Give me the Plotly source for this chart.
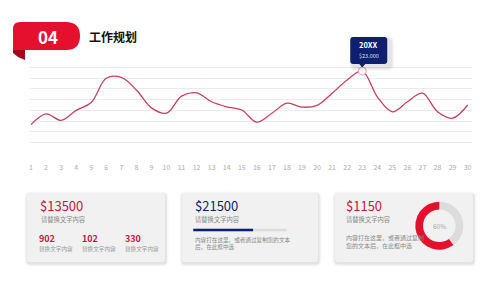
import plotly.graph_objects as go

W, H = 500, 281

# ---- data ----
days = list(range(1, 31))
values = [8000, 11000, 9200, 12000, 14200, 21000, 21200, 17700, 12700, 11200,
          16000, 16900, 14400, 13000, 12100, 8700, 11200, 14000, 12900, 13400,
          16800, 20500, 23000, 15800, 11600, 14400, 16800, 11600, 9800, 13500]
highlight_day = 23
highlight_label = "20XX"
highlight_value_text = "$23.000"

section_no = "04"
section_title = "工作规划"

card1_value = "$13500"
card1_sub = "请替换文字内容"
card1_stats = ["902", "102", "330"]
card1_stat_label = "替换文字内容"

card2_value = "$21500"
card2_sub = "请替换文字内容"
card2_progress = 0.64
card2_text = ["内容打在这里，或者通过复制您的文本", "后，在此框中选"]

card3_value = "$1150"
card3_sub = "请替换文字内容"
card3_text = ["内容打在这里，或者通过复制", "您的文本后，在此框中选"]
card3_pct = [60, 40]

FONT = "Noto Sans CJK SC"
RED = "#e5102e"
CRIMSON = "#c8173f"
NAVY = "#0d1f6e"

# plot-area geometry (pixels) and axis ranges
PX0, PX1 = 30, 472
PY_BOT, PY_TOP = 153.3, 56.7
XR = [0.934, 30.29]
YR = [-20, 27020]


def px(x):
    return x / W


def py(y):
    return 1 - y / H


def data_to_px(xv, yv):
    X = PX0 + (xv - XR[0]) / (XR[1] - XR[0]) * (PX1 - PX0)
    Y = PY_BOT - (yv - YR[0]) / (YR[1] - YR[0]) * (PY_BOT - PY_TOP)
    return X, Y


def path(points, closed=True):
    s = ""
    for i, p in enumerate(points):
        if p[0] == "Q":
            s += f" Q{px(p[1]):.5f},{py(p[2]):.5f} {px(p[3]):.5f},{py(p[4]):.5f}"
        else:
            s += (" M" if i == 0 else " L") + f"{px(p[0]):.5f},{py(p[1]):.5f}"
    return s.strip() + (" Z" if closed else "")


def rrect(x0, y0, x1, y1, r):
    return path([
        (x0 + r, y0), (x1 - r, y0), ("Q", x1, y0, x1, y0 + r),
        (x1, y1 - r), ("Q", x1, y1, x1 - r, y1),
        (x0 + r, y1), ("Q", x0, y1, x0, y1 - r),
        (x0, y0 + r), ("Q", x0, y0, x0 + r, y0),
    ])


fig = go.Figure()

fig.add_trace(go.Scatter(
    x=days, y=values, mode="lines",
    line=dict(color="#c4405f", width=1.3, shape="spline", smoothing=1.0),
    hoverinfo="skip", showlegend=False,
))
fig.add_trace(go.Scatter(
    x=[highlight_day], y=[values[days.index(highlight_day)]], mode="markers",
    marker=dict(size=8, color="rgba(255,255,255,0.9)",
                line=dict(color="#e3a3b3", width=1)),
    hoverinfo="skip", showlegend=False,
))

# gray remainder first (clockwise from 12 o'clock), red share fills the rest
fig.add_trace(go.Pie(
    values=[card3_pct[1], card3_pct[0]], marker=dict(colors=["#dcdcdc", RED]),
    hole=0.68, sort=False, direction="clockwise", rotation=0,
    textinfo="none", hoverinfo="skip", showlegend=False,
    domain=dict(x=[px(415.3), px(463.3)], y=[py(249.7), py(201.7)]),
))

shapes = []
annotations = []

# header tab
shapes.append(dict(type="path", xref="paper", yref="paper",
                   path=path([(13, 50), (25, 50), (25, 60), (18, 57), (13, 53)]),
                   fillcolor="#9e0a1c", line=dict(width=0)))
shapes.append(dict(type="path", xref="paper", yref="paper",
                   path=path([(20, 22), (66, 22), ("Q", 80, 22, 80, 36),
                              ("Q", 80, 50, 66, 50), (13, 50), (13, 29),
                              ("Q", 13, 22, 20, 22)]),
                   fillcolor=RED, line=dict(width=0)))
annotations.append(dict(x=px(47.5), y=py(36), xref="paper", yref="paper",
                        xanchor="center", yanchor="middle",
                        text=f"<b>{section_no}</b>", showarrow=False,
                        font=dict(family=FONT, size=17, color="white")))
annotations.append(dict(x=px(87), y=py(36), xref="paper", yref="paper",
                        xanchor="left", yanchor="middle",
                        text=f"<b>{section_title}</b>", showarrow=False,
                        font=dict(family=FONT, size=12, color="#111")))

# cards with faux shadow
cards = [(27, 165), (182, 318), (335, 473)]
for x0, x1 in cards:
    for k, a in [(3, 0.025), (2, 0.035), (1, 0.05)]:
        shapes.append(dict(type="path", xref="paper", yref="paper",
                           path=rrect(x0 - k + 0.5, 193 - k + 1.5, x1 + k + 0.5, 262 + k + 1.5, 3 + k),
                           fillcolor=f"rgba(0,0,0,{a})", line=dict(width=0), layer="below"))
    shapes.append(dict(type="path", xref="paper", yref="paper",
                       path=rrect(x0, 193, x1, 262, 3),
                       fillcolor="#f1f1f1", line=dict(width=0), layer="below"))


def txt(x, y, t, size, color, bold=False):
    annotations.append(dict(x=px(x), y=py(y), xref="paper", yref="paper",
                            xanchor="left", yanchor="middle", align="left",
                            text=f"<b>{t}</b>" if bold else t, showarrow=False,
                            font=dict(family=FONT, size=size, color=color)))


# card 1
txt(38, 205.5, card1_value, 13, CRIMSON)
txt(38.5, 219.5, card1_sub, 6.3, "#8a8a8a")
for sx, s in zip([37, 80, 122.5], card1_stats):
    txt(sx, 238.5, s, 9, CRIMSON, bold=True)
    txt(sx, 249, card1_stat_label, 5.6, "#9a9a9a")

# card 2
txt(192.5, 205.5, card2_value, 13, NAVY)
txt(193, 219, card2_sub, 6.3, "#8a8a8a")
bx0, bx1 = 193.3, 286.7
shapes.append(dict(type="rect", xref="paper", yref="paper",
                   x0=px(bx0), x1=px(bx1), y0=py(231.3), y1=py(228.7),
                   fillcolor="#dcdcdc", line=dict(width=0)))
shapes.append(dict(type="rect", xref="paper", yref="paper",
                   x0=px(bx0), x1=px(bx0 + (bx1 - bx0) * card2_progress),
                   y0=py(231.3), y1=py(228.7),
                   fillcolor=NAVY, line=dict(width=0)))
txt(193, 243, "<br>".join(card2_text), 5.6, "#8a8a8a")

# card 3
txt(343.5, 205.5, card3_value, 13, CRIMSON)
txt(344, 219.8, card3_sub, 6.3, "#8a8a8a")
txt(344, 241.3, "<br>".join(card3_text), 6, "#8a8a8a")
annotations.append(dict(x=px(439.3), y=py(225.7), xref="paper", yref="paper",
                        xanchor="center", yanchor="middle",
                        text=f"{card3_pct[0]}%", showarrow=False,
                        font=dict(family=FONT, size=6.5, color="#aaaaaa")))

# tooltip at highlighted point (positioned through the axis scale)
hv = values[days.index(highlight_day)]
mx, my = data_to_px(highlight_day, hv)
bx0_, bx1_, by0_, by1_ = mx - 12, mx + 25, my - 34, my - 7
for k, a in [(4, 0.025), (3, 0.035), (2, 0.045)]:
    shapes.append(dict(type="path", xref="paper", yref="paper",
                       path=rrect(bx0_ - k + 3, by0_ - k + 3, bx1_ + k + 3, by1_ + k + 3, 3 + k),
                       fillcolor=f"rgba(0,0,0,{a})", line=dict(width=0)))
r = 3
shapes.append(dict(type="path", xref="paper", yref="paper",
                   path=path([
                       (bx0_ + r, by0_), (bx1_ - r, by0_), ("Q", bx1_, by0_, bx1_, by0_ + r),
                       (bx1_, by1_ - r), ("Q", bx1_, by1_, bx1_ - r, by1_),
                       (mx + 3, by1_), (mx, my - 3.5), (mx - 3, by1_),
                       (bx0_ + r, by1_), ("Q", bx0_, by1_, bx0_, by1_ - r),
                       (bx0_, by0_ + r), ("Q", bx0_, by0_, bx0_ + r, by0_),
                   ]),
                   fillcolor=NAVY, line=dict(width=0)))
annotations.append(dict(x=px(mx + 6.5), y=py(my - 26.5), xref="paper", yref="paper",
                        xanchor="center", yanchor="middle",
                        text=f"<b>{highlight_label}</b>", showarrow=False,
                        font=dict(family=FONT, size=7.5, color="white")))
annotations.append(dict(x=px(mx + 6.5), y=py(my - 15), xref="paper", yref="paper",
                        xanchor="center", yanchor="middle",
                        text=highlight_value_text, showarrow=False,
                        font=dict(family=FONT, size=5.5, color="#dfe3f5")))

fig.update_layout(
    width=W, height=H,
    margin=dict(l=0, r=0, t=0, b=0),
    paper_bgcolor="white", plot_bgcolor="white",
    font=dict(family=FONT),
    shapes=shapes, annotations=annotations,
    xaxis=dict(domain=[px(PX0), px(PX1)], range=XR,
               tickmode="array", tickvals=days, ticktext=[str(d) for d in days],
               showgrid=False, zeroline=False, showline=False, ticks="",
               tickfont=dict(family=FONT, size=7, color="#ababab"),
               ticklabelstandoff=9, fixedrange=True),
    yaxis=dict(domain=[py(PY_BOT), py(PY_TOP)], range=YR,
               tick0=0, dtick=3000, showgrid=True, gridcolor="#ebebeb",
               gridwidth=1, zeroline=False, showline=False, showticklabels=False,
               ticks="", fixedrange=True),
)

fig.write_html("out.html")
